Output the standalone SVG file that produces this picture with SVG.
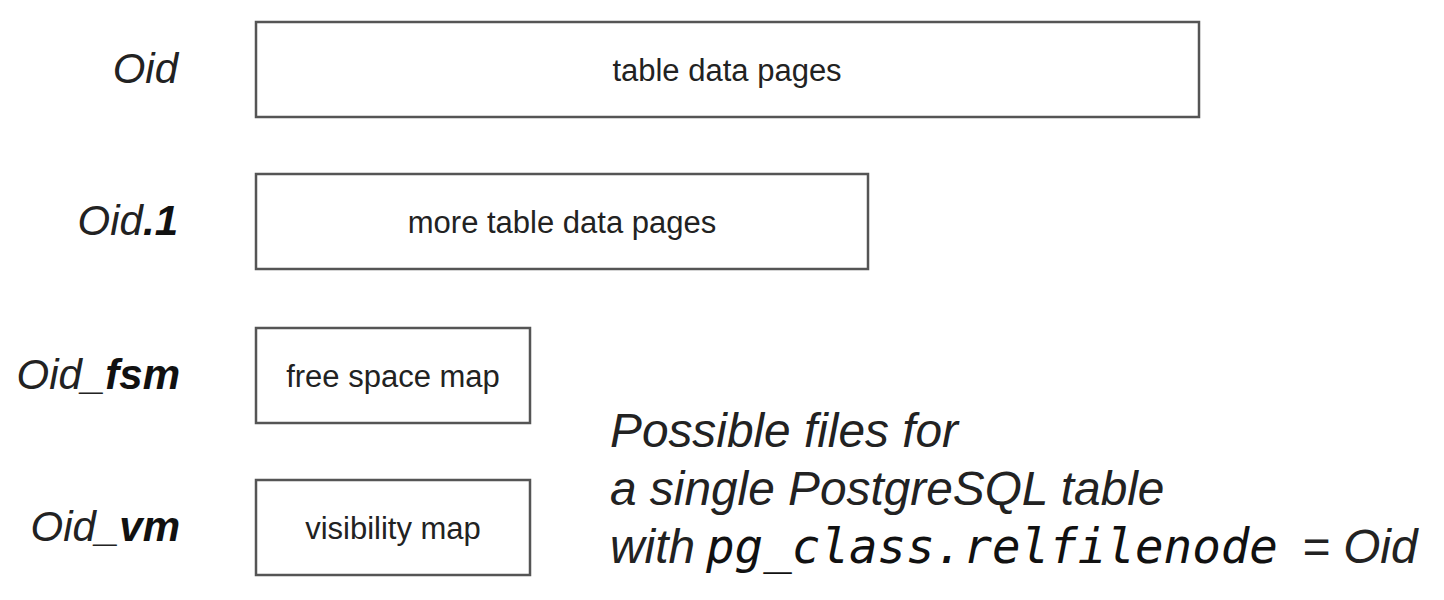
<svg xmlns="http://www.w3.org/2000/svg" width="1444" height="600" viewBox="0 0 1444 600">
<style>
.box{fill:#fff;stroke:#555;stroke-width:2.5}
.bt{font-family:"Liberation Sans",Arial,sans-serif;font-size:31px;fill:#222;text-anchor:middle}
.lbl{font-family:"Liberation Sans",Arial,sans-serif;font-size:42px;font-style:italic;fill:#222;text-anchor:end}
.b{font-weight:bold;fill:#111}
.cap{font-family:"Liberation Sans",Arial,sans-serif;font-size:47.8px;font-style:italic;fill:#222}
.mono{font-family:"DejaVu Sans Mono",monospace;font-style:oblique;font-size:47.5px;fill:#111}
</style>
<rect width="1444" height="600" fill="#fff"/>
<g id="oid">
<rect class="box" x="256" y="22" width="943" height="95"/>
<text class="bt" x="727" y="81">table data pages</text>
<text class="lbl" x="178" y="83">Oid</text>
</g>
<g id="oid1">
<rect class="box" x="256" y="174" width="612" height="95"/>
<text class="bt" x="562" y="233">more table data pages</text>
<text class="lbl" x="178" y="235">Oid<tspan class="b">.1</tspan></text>
</g>
<g id="oidfsm">
<rect class="box" x="256" y="328" width="274" height="95"/>
<text class="bt" x="393" y="387">free space map</text>
<text class="lbl" x="180" y="389">Oid_<tspan class="b">fsm</tspan></text>
</g>
<g id="oidvm">
<rect class="box" x="256" y="480" width="274" height="95"/>
<text class="bt" x="393" y="539">visibility map</text>
<text class="lbl" x="180" y="541">Oid_<tspan class="b">vm</tspan></text>
</g>
<g id="caption">
<text class="cap" x="610" y="447">Possible files for</text>
<text class="cap" x="610" y="505">a single PostgreSQL table</text>
<text class="cap" x="610" y="563">with <tspan class="mono" x="706">pg_class.relfilenode</tspan><tspan x="1302">= Oid</tspan></text>
</g>
<g id="connectors"/>
</svg>
